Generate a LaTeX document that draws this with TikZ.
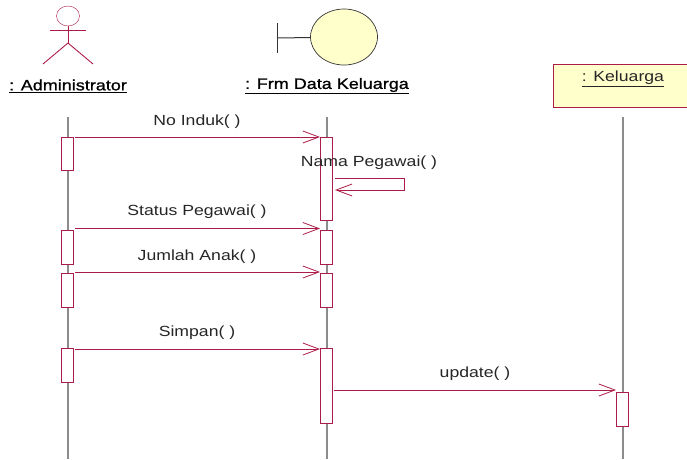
\documentclass[tikz,border=0pt]{standalone}
\usepackage{fontspec}
\setmainfont[FakeStretch=1.2]{Liberation Sans}
\newfontfamily\objfont[FakeStretch=1.2,FakeBold=1]{Liberation Sans}
\usetikzlibrary{arrows.meta,shapes.geometric}
\definecolor{umlred}{RGB}{172,28,72}
\definecolor{umlyellow}{RGB}{255,255,204}
\definecolor{lifegray}{RGB}{140,140,140}
\tikzset{
    actv/.style={draw=umlred,fill=white,line width=1pt,minimum width=12pt,inner sep=0pt,anchor=north},
    life/.style={draw=lifegray,line width=1.1pt},
    msg/.style={draw=umlred,line width=0.9pt,-{Straight Barb[length=16pt,width=12pt,line width=0.8pt]}},
    lbl/.style={font=\fontsize{14.7pt}{17pt}\selectfont,text=black!85,inner sep=0pt},
    objlbl/.style={font=\fontsize{15pt}{17pt}\objfont,text=black,inner sep=0pt},
}
\begin{document}
\begin{tikzpicture}[x=1pt,y=-1pt]
    \useasboundingbox (0,0) rectangle (687,459);
    % lifelines
    \coordinate (adminTop) at (68,117);
    \coordinate (adminEnd) at (68,459);
    \coordinate (frmTop) at (327,117);
    \coordinate (frmEnd) at (327,459);
    \coordinate (kelTop) at (623,117);
    \coordinate (kelEnd) at (623,459);
    \draw[life] (adminTop) to (adminEnd);
    \draw[life] (frmTop) to (frmEnd);
    \draw[life] (kelTop) to (kelEnd);
    % actor
    \node[draw=umlred,ellipse,minimum width=23pt,minimum height=20pt,inner sep=0pt] (head) at (68,16) {};
    \coordinate (hip) at (68,43);
    \coordinate (armL) at (50,30);
    \coordinate (armR) at (86,30);
    \coordinate (legL) at (43,64);
    \coordinate (legR) at (93,64);
    \draw[umlred,line width=0.9pt] (head) to (hip);
    \draw[umlred,line width=0.9pt] (armL) to (armR);
    \draw[umlred,line width=0.9pt] (legL) to (hip);
    \draw[umlred,line width=0.9pt] (legR) to (hip);
    \node[objlbl] (admin) at (68,86) {\underline{: Administrator}};
    % boundary
    \node[draw=black!80,fill=umlyellow,ellipse,minimum width=67pt,minimum height=56pt,inner sep=0pt,line width=0.7pt] (circ) at (344,37) {};
    \coordinate (barTop) at (277.5,23);
    \coordinate (barEnd) at (277.5,53);
    \coordinate (barMid) at (277.5,38);
    \draw[black!80,line width=1pt] (barTop) to (barEnd);
    \draw[black!80,line width=1pt] (barMid) to (circ);
    \node[objlbl] (frm) at (327,86) {\underline{: Frm Data Keluarga}};
    % entity box
    \node[draw=umlred,fill=umlyellow,line width=0.9pt,minimum width=140pt,minimum height=43pt,inner sep=0pt] (box) at (623,86) {};
    \node[lbl] (kel) at (623,79) {\underline{: Keluarga}};
    % activations
    \node[actv,minimum height=33pt] (a1) at (67,137) {};
    \node[actv,minimum height=34pt] (a2) at (67,230) {};
    \node[actv,minimum height=34pt] (a3) at (67,273) {};
    \node[actv,minimum height=34pt] (a4) at (67,348) {};
    \node[actv,minimum height=83pt] (b1) at (326,137) {};
    \node[actv,minimum height=34pt] (b2) at (326,230) {};
    \node[actv,minimum height=34pt] (b3) at (326,273) {};
    \node[actv,minimum height=75pt] (b4) at (326,348) {};
    \node[actv,minimum height=34pt] (c1) at (622,392) {};
    % messages
    \coordinate (m1s) at (75,137);
    \coordinate (m1e) at (320,137);
    \coordinate (m2s) at (75,228.5);
    \coordinate (m2e) at (320,228.5);
    \coordinate (m3s) at (75,272);
    \coordinate (m3e) at (320,272);
    \coordinate (m4s) at (75,349);
    \coordinate (m4e) at (320,349);
    \coordinate (m5s) at (334,390);
    \coordinate (m5e) at (616,390);
    \coordinate (selfA) at (335,178);
    \coordinate (selfB) at (404,178);
    \coordinate (selfC) at (404,190);
    \coordinate (selfD) at (335,190);
    \draw[msg] (m1s) to (m1e);
    \draw[msg] (m2s) to (m2e);
    \draw[msg] (m3s) to (m3e);
    \draw[msg] (m4s) to (m4e);
    \draw[msg] (m5s) to (m5e);
    \draw[msg] (selfA) -- (selfB) -- (selfC) -- (selfD);
    % labels
    \node[lbl] (l1) at (197,122) {No Induk( )};
    \node[lbl] (l2) at (369,163) {Nama Pegawai( )};
    \node[lbl] (l3) at (197,212) {Status Pegawai( )};
    \node[lbl] (l4) at (197,257) {Jumlah Anak( )};
    \node[lbl] (l5) at (197,333) {Simpan( )};
    \node[lbl] (l6) at (475,374) {update( )};
\end{tikzpicture}
\end{document}
